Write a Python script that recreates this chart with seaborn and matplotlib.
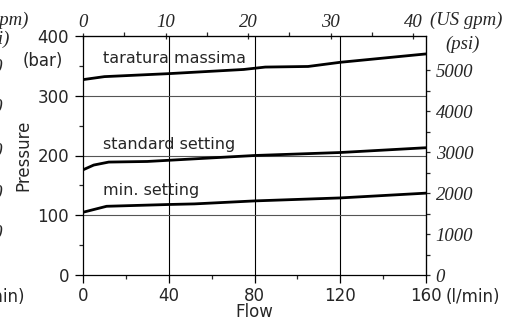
import numpy as np
import pandas as pd
import seaborn as sns
import matplotlib.pyplot as plt

# data (flow in l/min, pressure in bar)
flow_max = [0, 10, 40, 75, 85, 105, 120, 160]
bar_max = [327, 332, 337, 344, 348, 349, 356, 370]
flow_std = [0, 5, 12, 30, 50, 80, 120, 160]
bar_std = [176, 184, 189, 190, 194, 200, 205, 213]
flow_min = [0, 11, 40, 52, 80, 120, 160]
bar_min = [105, 115, 118, 119, 124, 129, 137]
curve_labels = ["taratura massima", "standard setting", "min. setting"]
x_ticks = [0, 40, 80, 120, 160]
y_ticks = [0, 100, 200, 300, 400]
gpm_ticks = [0, 10, 20, 30, 40]
psi_ticks = [0, 1000, 2000, 3000, 4000, 5000]

LPM_PER_GPM = 3.85
PSI_PER_BAR = 14.6

sns.set_style("ticks")
plt.rcParams['font.family'] = ['DejaVu Sans']

W, H = 513, 322
fig = plt.figure(figsize=(W / 100, H / 100), dpi=100)
ax = fig.add_axes([83 / W, 1 - 275 / H, 343 / W, 239 / H])

for fx, by in [(flow_max, bar_max), (flow_std, bar_std), (flow_min, bar_min)]:
    df = pd.DataFrame({"flow": fx, "bar": by})
    sns.lineplot(data=df, x="flow", y="bar", ax=ax, color="black", lw=2.0)

ax.set_xlim(0, 160)
ax.set_ylim(0, 400)
for v in [40, 80, 120]:
    ax.axvline(v, color="black", lw=0.8, zorder=0)
for v in [100, 200, 300]:
    ax.axhline(v, color="#555555", lw=0.8, zorder=0)

for s in ax.spines.values():
    s.set_visible(True)
    s.set_linewidth(0.9)
    s.set_color("black")

ax.set_xticks(x_ticks)
ax.set_xticks([20, 60, 100, 140], minor=True)
ax.set_yticks(y_ticks)
ax.set_yticks([50, 150, 250, 350], minor=True)
ax.tick_params(axis="both", which="major", length=6, width=0.9, labelsize=12, pad=4,
               direction="out", color="black")
ax.tick_params(axis="x", which="major", pad=2.5)
ax.tick_params(axis="both", which="minor", length=3, width=0.9, direction="out")
ax.set_xlabel("Flow", fontsize=12, labelpad=-1)
ax.set_ylabel("Pressure", fontsize=12, labelpad=4)

# top axis in US gpm
top = ax.secondary_xaxis("top", functions=(lambda x: x / LPM_PER_GPM, lambda g: g * LPM_PER_GPM))
top.set_xticks(gpm_ticks)
top.set_xticks([5, 15, 25, 35], minor=True)
top.tick_params(which="major", length=5, width=0.9, direction="inout", pad=1)
top.tick_params(which="minor", length=3, width=0.9, direction="out")
for lab in top.get_xticklabels():
    lab.set_fontfamily("Liberation Serif")
    lab.set_fontstyle("italic")
    lab.set_fontsize(13.5)

# right axis in psi
right = ax.secondary_yaxis("right", functions=(lambda b: b * PSI_PER_BAR, lambda p: p / PSI_PER_BAR))
right.set_yticks(psi_ticks)
right.set_yticks([500, 1500, 2500, 3500, 4500], minor=True)
right.tick_params(which="both", length=3, width=0.9, direction="out", pad=4)
for lab in right.get_yticklabels():
    lab.set_fontfamily("Liberation Serif")
    lab.set_fontstyle("italic")
    lab.set_fontsize(13.5)

ax.text(9.3, 363, curve_labels[0], fontsize=11.5, va="center")
ax.text(9.3, 219, curve_labels[1], fontsize=11.5, va="center")
ax.text(9.3, 141, curve_labels[2], fontsize=11.5, va="center")

serif_it = dict(fontfamily="Liberation Serif", fontstyle="italic", fontsize=13.5)
fig.text(430 / W, 1 - 20 / H, "(US gpm)", va="center", ha="left", **serif_it)
fig.text(463 / W, 1 - 44 / H, "(psi)", va="center", ha="center", **serif_it)
fig.text(63 / W, 1 - 61 / H, "(bar)", va="center", ha="right", fontsize=12)
fig.text(446 / W, 1 - 297 / H, "(l/min)", va="center", ha="left", fontsize=12)

# fragments of the neighbouring chart cut off at the left edge
fig.text(28 / W, 1 - 20 / H, "(US gpm)", va="center", ha="right", **serif_it)
fig.text(10 / W, 1 - 39 / H, "(psi)", va="center", ha="right", **serif_it)
for yy, t in zip([68, 108, 152, 193, 233], ["5000", "4000", "3000", "2000", "1000"]):
    fig.text(3 / W, 1 - yy / H, t, va="center", ha="right", **serif_it)
fig.text(25 / W, 1 - 297 / H, "(l/min)", va="center", ha="right", fontsize=12)

fig.savefig("out.png", dpi=100)
